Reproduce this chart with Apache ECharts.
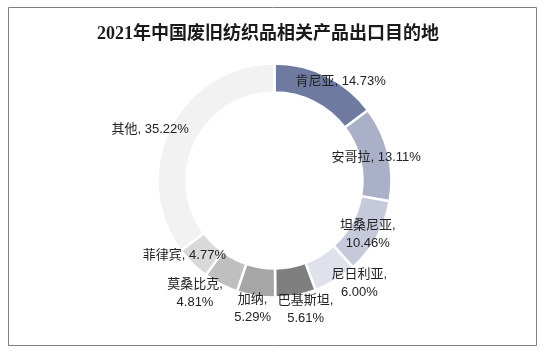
<!DOCTYPE html>
<html><head><meta charset="utf-8">
<script src="https://cdn.jsdelivr.net/npm/echarts@6/dist/echarts.min.js"></script>
<style>html,body{margin:0;padding:0;background:#fff}#c{width:546px;height:355px}</style>
</head><body><div id="c"></div>
<script>
const titleText = '2021年中国废旧纺织品相关产品出口目的地';
const names = ['肯尼亚','安哥拉','坦桑尼亚','尼日利亚','巴基斯坦','加纳','莫桑比克','菲律宾','其他'];
const values = [14.73, 13.11, 10.46, 6.00, 5.61, 5.29, 4.81, 4.77, 35.22];
const colors = ['#6e7aa0','#a9b0c8','#c5c9da','#e0e2eb','#7f7f7f','#a6a6a6','#bfbfbf','#d9d9d9','#f2f2f2'];
const wrapNames = ['坦桑尼亚','尼日利亚','巴基斯坦','加纳','莫桑比克'];
// label nudges (px) relative to the ring's mid-radius position
const labelNudge = [[19,-5],[-1,1],[1,3],[30,13],[12,25],[-5,24],[-31,19],[-16,0],[-30,-4]];

const chart = echarts.init(document.getElementById('c'));
chart.setOption({
  animation: false,
  graphic: [{
    type: 'rect', shape: {x: 8.5, y: 7.5, width: 528, height: 338},
    style: {fill: 'none', stroke: '#808080', lineWidth: 1}, silent: true
  }],
  title: {
    text: titleText, left: 92, top: 20,
    textStyle: {fontFamily: '"Liberation Serif", "Noto Sans CJK SC", serif', fontWeight: 'bold', fontSize: 18, color: '#1a1a1a'}
  },
  series: [{
    type: 'pie',
    center: [274.5, 180.5],
    radius: [88, 117],
    startAngle: 90,
    clockwise: true,
    avoidLabelOverlap: false,
    labelLayout: {hideOverlap: false},
    itemStyle: {borderColor: '#fff', borderWidth: 2.5},
    label: {
      show: true, position: 'inside',
      fontFamily: '"Liberation Sans", "Noto Sans CJK SC", sans-serif',
      fontSize: 13, color: '#222', lineHeight: 18,
      formatter: p => p.name + (wrapNames.includes(p.name) ? ',\n' : ', ') + values[p.dataIndex].toFixed(2) + '%'
    },
    labelLine: {show: false},
    data: names.map((n, i) => ({name: n, value: values[i], itemStyle: {color: colors[i]}, label: {offset: labelNudge[i]}}))
  }]
});
</script></body></html>
